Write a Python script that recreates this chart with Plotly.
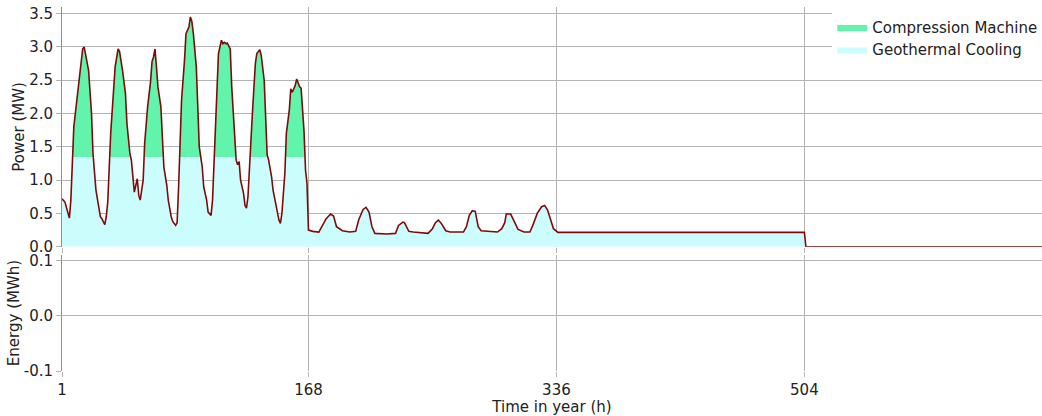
import plotly.graph_objects as go
from plotly.subplots import make_subplots

# ---- data ----
hours = [1, 3, 6, 7, 9, 12, 13, 15, 16, 17, 19, 21, 22, 24, 25, 27, 28, 30, 31, 32,
         34, 36, 37, 39, 40, 42, 44, 45, 47, 48, 49, 50, 52, 53, 54, 56,
         57, 59, 61, 62, 63, 64, 65, 66, 68, 69, 70, 72, 73, 75, 76, 78, 79,
         80, 82, 84, 85, 87, 88, 89, 90, 92, 93, 94, 96, 97, 99, 100, 102, 103,
         105, 106, 107, 109, 110, 111, 112, 113, 115, 116, 118, 119, 120, 121, 122, 124, 125, 126, 127,
         129, 130, 132, 133, 135, 136, 138, 139, 140, 141, 143, 144, 146, 148, 149, 150,
         152, 153, 155, 156, 157, 159, 160, 162, 163, 164, 165, 166, 167, 168,
         171, 175, 177, 180, 183, 185, 187, 191, 196, 200, 202, 205, 207, 209, 211, 213,
         221, 227, 229, 232, 233, 236, 239, 249, 252, 254, 256, 258, 261, 264,
         273, 275, 277, 279, 281, 283, 285, 289, 296, 299, 301, 302, 305, 307, 310,
         314, 318, 320, 323, 326, 328, 330, 332, 334, 337, 504, 505, 672]
load_mw = [0.72, 0.67, 0.43, 0.70, 1.80, 2.40, 2.65, 2.97, 3.00, 2.90, 2.65, 2.00, 1.40, 0.85, 0.70, 0.45, 0.42, 0.33, 0.45, 0.67,
           1.70, 2.45, 2.70, 2.97, 2.93, 2.65, 2.30, 1.85, 1.40, 1.30, 1.00, 0.82, 1.02, 0.77, 0.70, 1.00,
           1.55, 2.10, 2.48, 2.78, 2.85, 2.97, 2.70, 2.40, 2.10, 1.55, 1.20, 0.92, 0.70, 0.45, 0.38, 0.32, 0.36,
           0.90, 2.20, 2.80, 3.20, 3.30, 3.45, 3.38, 3.20, 2.70, 2.10, 1.50, 1.20, 0.90, 0.70, 0.52, 0.47, 0.70,
           1.80, 2.45, 2.90, 3.10, 3.05, 3.07, 3.05, 3.06, 2.97, 2.40, 1.75, 1.30, 1.23, 1.28, 1.00, 0.80, 0.62, 0.58, 0.75,
           1.70, 2.00, 2.75, 2.90, 2.96, 2.87, 2.50, 1.95, 1.38, 1.30, 1.05, 0.85, 0.62, 0.40, 0.35, 0.50,
           1.10, 1.70, 2.05, 2.37, 2.32, 2.42, 2.52, 2.40, 2.38, 2.00, 1.73, 1.15, 0.95, 0.25,
           0.23, 0.22, 0.30, 0.42, 0.49, 0.46, 0.30, 0.24, 0.22, 0.23, 0.40, 0.56, 0.59, 0.52, 0.30, 0.20,
           0.19, 0.20, 0.32, 0.37, 0.36, 0.23, 0.22, 0.20, 0.27, 0.36, 0.40, 0.35, 0.24, 0.22,
           0.22, 0.30, 0.47, 0.54, 0.53, 0.30, 0.24, 0.23, 0.22, 0.27, 0.36, 0.49, 0.49, 0.40, 0.26,
           0.22, 0.22, 0.32, 0.50, 0.60, 0.62, 0.55, 0.40, 0.27, 0.215, 0.215, 0.0, 0.0]
geothermal_capacity_mw = 1.35
series_names = ["Compression Machine", "Geothermal Cooling"]
x_ticks = [1, 168, 336, 504]
power_ticks = [0.0, 0.5, 1.0, 1.5, 2.0, 2.5, 3.0, 3.5]
energy_ticks = [-0.1, 0.0, 0.1]
energy_tick_labels = ["-0.1", "0.0", "0.1"]

GREEN = "#62F4AA"
CYAN = "#CCFDFD"
LINE = "#7E0A0A"
GRID = "#B4B4B4"
FONT = "DejaVu Sans"
FS = 15

P_MAX = 3.6
fig = make_subplots(rows=2, cols=1, shared_xaxes=False, vertical_spacing=0.02)

c = geothermal_capacity_mw / P_MAX
fig.add_trace(go.Scatter(
    x=hours, y=load_mw, mode="lines", line=dict(width=0), fill="tozeroy",
    fillgradient=dict(type="vertical", start=0, stop=P_MAX,
                      colorscale=[[0, CYAN], [c, CYAN], [c + 1e-6, GREEN], [1, GREEN]]),
    showlegend=False, hoverinfo="skip"), row=1, col=1)
fig.add_trace(go.Scatter(x=hours, y=load_mw, mode="lines",
                         line=dict(color=LINE, width=1.6), showlegend=False), row=1, col=1)
# legend entries
fig.add_trace(go.Scatter(x=[None], y=[None], mode="lines", line=dict(width=0, color=GREEN),
                         fill="tozeroy", fillcolor=GREEN, name=series_names[0]), row=1, col=1)
fig.add_trace(go.Scatter(x=[None], y=[None], mode="lines", line=dict(width=0, color=CYAN),
                         fill="tozeroy", fillcolor=CYAN, name=series_names[1]), row=1, col=1)
# empty energy panel
fig.add_trace(go.Scatter(x=[1, 665], y=[None, None], mode="lines", showlegend=False,
                         hoverinfo="skip"), row=2, col=1)

tfont = dict(family=FONT, size=FS, color="#222")
axis_common = dict(showgrid=True, gridcolor=GRID, gridwidth=1, zeroline=False,
                   tickfont=tfont, automargin=False,
                   ticks="outside", ticklen=5, tickcolor=GRID)
fig.update_xaxes(range=[1, 665], tickvals=x_ticks, showline=False, **axis_common)
fig.update_xaxes(showticklabels=False, row=1, col=1)
fig.update_xaxes(title=dict(text="Time in year (h)", font=tfont, standoff=2), row=2, col=1)
fig.update_yaxes(showline=True, linecolor="#909090", linewidth=1, **axis_common)
fig.update_yaxes(range=[0, P_MAX], tickvals=power_ticks, tickformat=".1f",
                 title=dict(text="Power (MW)", font=tfont, standoff=0), row=1, col=1)
fig.update_yaxes(range=[-0.1, 0.1104], tickvals=energy_ticks, ticktext=energy_tick_labels,
                 title=dict(text="Energy (MWh)", font=tfont, standoff=0), row=2, col=1)
fig.update_layout(
    yaxis=dict(domain=[0.3415, 1.0]),
    yaxis2=dict(domain=[0.0, 0.3187]),
    width=1042, height=416,
    margin=dict(l=62, r=0, t=7, b=45, autoexpand=False),
    plot_bgcolor="white", paper_bgcolor="white",
    font=tfont,
    legend=dict(x=0.786, xanchor="left", y=0.99, yanchor="top", bgcolor="white",
                font=tfont, traceorder="normal"),
)
fig.write_html("out.html", config={"displayModeBar": False},
               post_script="document.body.style.margin='0';document.body.style.overflow='hidden';")
